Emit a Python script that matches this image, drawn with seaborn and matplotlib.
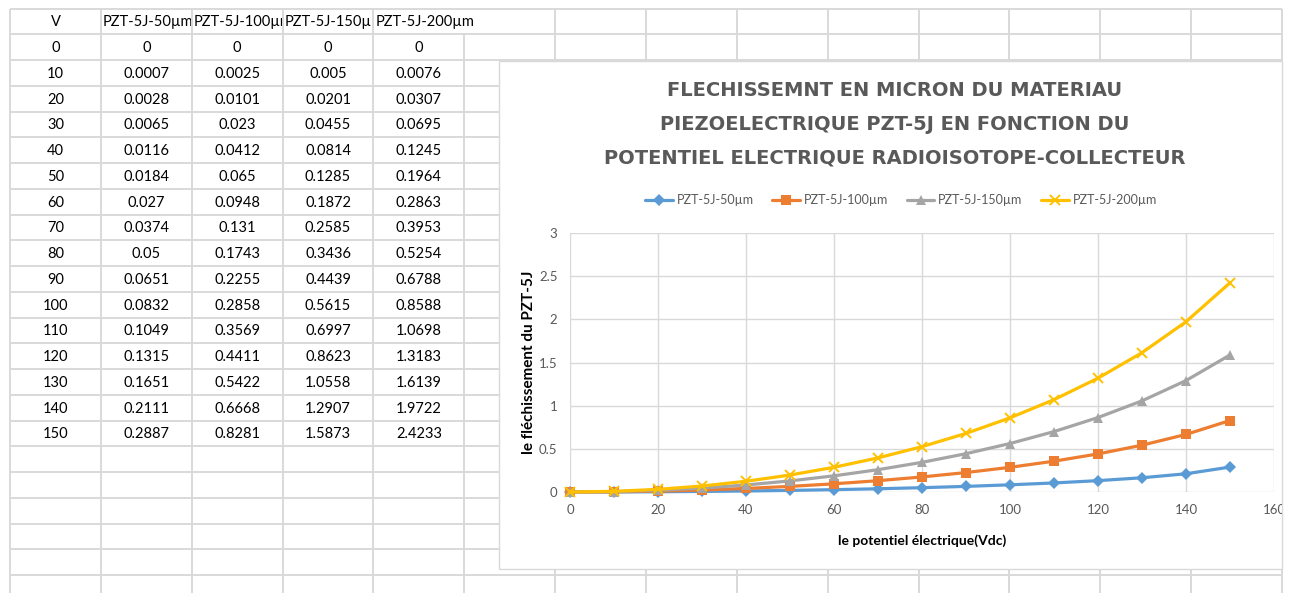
import numpy as np
import pandas as pd
import matplotlib
matplotlib.use("Agg")
import matplotlib.pyplot as plt
from matplotlib.patches import Rectangle
from matplotlib.transforms import Bbox, TransformedBbox
import seaborn as sns

# ---------------- data ----------------
volts = [0, 10, 20, 30, 40, 50, 60, 70, 80, 90, 100, 110, 120, 130, 140, 150]
pzt_50 = [0, 0.0007, 0.0028, 0.0065, 0.0116, 0.0184, 0.027, 0.0374, 0.05, 0.0651,
          0.0832, 0.1049, 0.1315, 0.1651, 0.2111, 0.2887]
pzt_100 = [0, 0.0025, 0.0101, 0.023, 0.0412, 0.065, 0.0948, 0.131, 0.1743, 0.2255,
           0.2858, 0.3569, 0.4411, 0.5422, 0.6668, 0.8281]
pzt_150 = [0, 0.005, 0.0201, 0.0455, 0.0814, 0.1285, 0.1872, 0.2585, 0.3436, 0.4439,
           0.5615, 0.6997, 0.8623, 1.0558, 1.2907, 1.5873]
pzt_200 = [0, 0.0076, 0.0307, 0.0695, 0.1245, 0.1964, 0.2863, 0.3953, 0.5254, 0.6788,
           0.8588, 1.0698, 1.3183, 1.6139, 1.9722, 2.4233]
series_names = ["PZT-5J-50µm", "PZT-5J-100µm", "PZT-5J-150µm", "PZT-5J-200µm"]
header_label = "V"
title_lines = ["FLECHISSEMNT EN MICRON DU MATERIAU",
               "PIEZOELECTRIQUE PZT-5J EN FONCTION DU",
               "POTENTIEL ELECTRIQUE RADIOISOTOPE-COLLECTEUR"]
x_label = "le potentiel électrique(Vdc)"
y_label = "le fléchissement du PZT-5J"
x_ticks = [0, 20, 40, 60, 80, 100, 120, 140, 160]
y_ticks = [0, 0.5, 1, 1.5, 2, 2.5, 3]

series_values = [pzt_50, pzt_100, pzt_150, pzt_200]
colors = ["#5B9BD5", "#ED7D31", "#A5A5A5", "#FFC000"]
markers = ["D", "s", "^", "x"]
msizes = [6.0, 6.5, 6.5, 7.5]

sns.set_theme(style="white")
plt.rcParams["font.family"] = ["Lato", "DejaVu Sans"]

W, H = 1293, 593
fig = plt.figure(figsize=(W / 100, H / 100), dpi=100)

# ---------------- spreadsheet background ----------------
bg = fig.add_axes([0, 0, 1, 1], zorder=0)
bg.set_xlim(0, W)
bg.set_ylim(H, 0)
bg.axis("off")

grid_col = "#D9D9D9"
x0, cw = 10, (1282 - 10) / 14
y0, rh = 8.5, 25.75
col_x = [x0 + j * cw for j in range(15)]
row_y = [y0 + k * rh for k in range(24)]

for y in row_y:
    bg.plot([x0, 1282], [y, y], color=grid_col, lw=1.4, solid_capstyle="butt")
for j, x in enumerate(col_x):
    ys = row_y[1] if j == 5 else y0
    bg.plot([x, x], [ys, H], color=grid_col, lw=1.4, solid_capstyle="butt")

cell_font = dict(fontsize=10.5, color="#000000")

def cell_center_y(k):
    return y0 + (k + 0.5) * rh + 1.0

# header row
bg.text((col_x[0] + col_x[1]) / 2, cell_center_y(0), header_label, ha="center", va="center", **cell_font)
for i, name in enumerate(series_names):
    t = bg.text(col_x[i + 1] + 2, cell_center_y(0), name, ha="left", va="center", **cell_font)
    if i < 3:
        t.set_clip_box(TransformedBbox(Bbox([[col_x[i + 1], y0], [col_x[i + 2] - 1, row_y[1]]]), bg.transData))
        t.set_clip_on(True)

for r, v in enumerate(volts):
    k = r + 1
    bg.text((col_x[0] + col_x[1]) / 2, cell_center_y(k), f"{v:g}", ha="center", va="center", **cell_font)
    for i, vals in enumerate(series_values):
        bg.text((col_x[i + 1] + col_x[i + 2]) / 2, cell_center_y(k), f"{vals[r]:g}",
                ha="center", va="center", **cell_font)

# chart area
cx0, cy0, cx1, cy1 = 499, 61, 1282, 569
bg.add_patch(Rectangle((cx0, cy0), cx1 - cx0, cy1 - cy0, facecolor="white",
                       edgecolor="#D9D9D9", lw=1.0, zorder=5))

title_col = "#595959"
for i, line in enumerate(title_lines):
    bg.text(895, 91 + i * 33.5, line, ha="center", va="center", fontsize=14,
            fontweight="bold", color=title_col, family=["DejaVu Sans"], zorder=6)

# ---------------- chart ----------------
px0, px1, py_top, py_bot = 570, 1274, 233, 492
ax = fig.add_axes([px0 / W, 1 - py_bot / H, (px1 - px0) / W, (py_bot - py_top) / H], zorder=2)
ax.set_facecolor("none")

for name, vals, c, m, ms in zip(series_names, series_values, colors, markers, msizes):
    kw = dict(markeredgewidth=1.4) if m == "x" else dict(markeredgewidth=0)
    sns.lineplot(x=volts, y=vals, ax=ax, color=c, marker=m, markersize=ms, lw=2.3,
                 label=name, clip_on=False, markeredgecolor=c, **kw)

ax.set_xlim(0, 160)
ax.set_ylim(0, 3)
ax.set_xticks(x_ticks)
ax.set_yticks(y_ticks)
ax.set_xticklabels([f"{t:g}" for t in x_ticks])
ax.set_yticklabels([f"{t:g}" for t in y_ticks])
ax.grid(True, color="#D9D9D9", lw=1.0)
ax.set_axisbelow(True)
for s in ax.spines.values():
    s.set_visible(False)
ax.tick_params(axis="both", length=0, labelsize=9.5, labelcolor="#595959")
ax.tick_params(axis="x", pad=9)
ax.tick_params(axis="y", pad=9)

clipbb = TransformedBbox(Bbox([[cx0, cy0], [cx1, cy1]]), bg.transData)
for lbl in ax.get_xticklabels():
    lbl.set_clip_box(clipbb)
    lbl.set_clip_on(True)

ax.set_xlabel(x_label, fontsize=10, fontweight="bold", color="black", labelpad=13)
ax.set_ylabel(y_label, fontsize=11, fontweight="bold", color="black", labelpad=2)

leg = ax.legend(loc="center", bbox_to_anchor=(901 / W, 1 - 200 / H), bbox_transform=fig.transFigure,
                ncol=4, frameon=False, fontsize=9, handlelength=2.2, handletextpad=0.3,
                columnspacing=1.5, labelcolor="#595959")

fig.savefig("out.png", dpi=100)
